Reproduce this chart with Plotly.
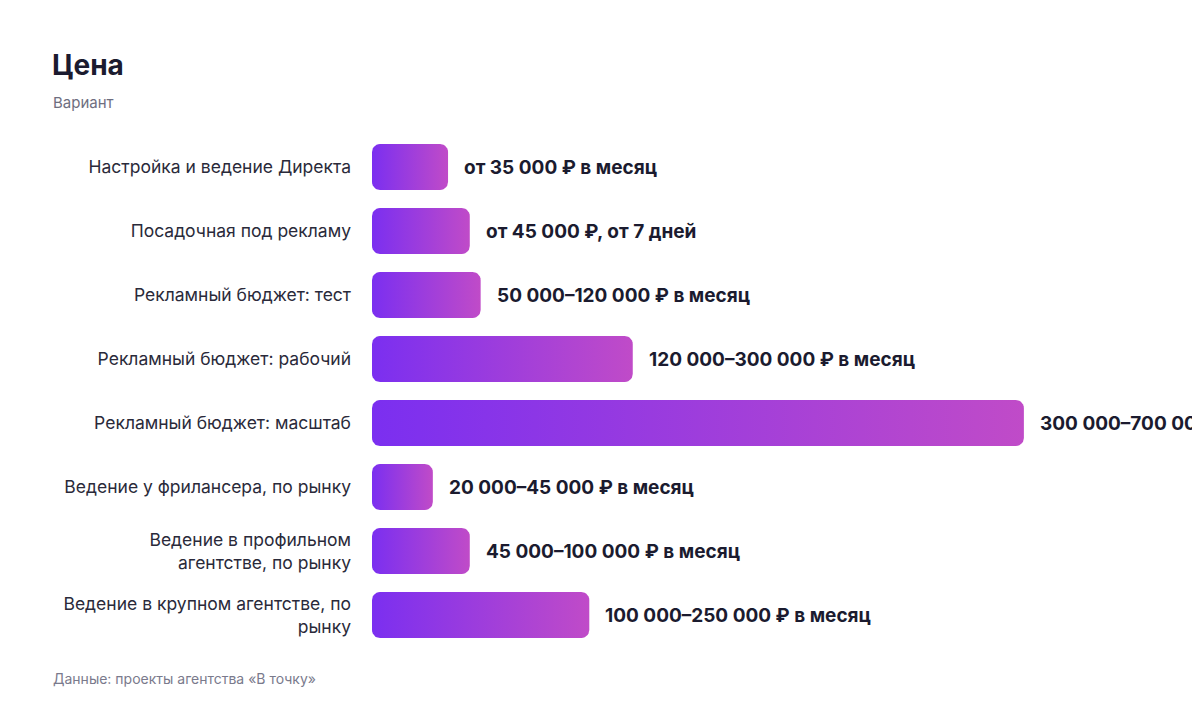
import numpy as np
import plotly.graph_objects as go

# Data
categories = [
    "Настройка и ведение Директа",
    "Посадочная под рекламу",
    "Рекламный бюджет: тест",
    "Рекламный бюджет: рабочий",
    "Рекламный бюджет: масштаб",
    "Ведение у фрилансера, по рынку",
    "Ведение в профильном<br>агентстве, по рынку",
    "Ведение в крупном агентстве, по<br>рынку",
]
values = [35000, 45000, 50000, 120000, 300000, 28000, 45000, 100000]
value_labels = [
    "от 35 000 ₽ в месяц",
    "от 45 000 ₽, от 7 дней",
    "50 000–120 000 ₽ в месяц",
    "120 000–300 000 ₽ в месяц",
    "300 000–700 000 ₽ в месяц",
    "20 000–45 000 ₽ в месяц",
    "45 000–100 000 ₽ в месяц",
    "100 000–250 000 ₽ в месяц",
]

# page body adds an 8px offset, so the figure is a bit smaller than the window
OFF = 8
W, H = 1200 - OFF, 712 - OFF
ML, MR, MT, MB = 372 - OFF, 24, 135 - OFF, 65
plot_w = W - ML - MR
plot_h = H - MT - MB
x_max = 370000
n_rows = len(categories)
row_px = plot_h / n_rows

half_h = 0.36          # half bar height in row units
radius_px = 8
rx = radius_px / plot_w * x_max
ry = radius_px / row_px

FONT = "Inter, Liberation Sans, Arial, sans-serif"


def rounded_bar(x1, yc, x0=0.0, steps=8):
    r_x = min(rx, (x1 - x0) / 2)
    top, bot = yc - half_h, yc + half_h
    corners = [
        (x0 + r_x, top + ry, 180, 270),
        (x1 - r_x, top + ry, 270, 360),
        (x1 - r_x, bot - ry, 0, 90),
        (x0 + r_x, bot - ry, 90, 180),
    ]
    xs, ys = [], []
    for cx, cy, a0, a1 in corners:
        t = np.radians(np.linspace(a0, a1, steps))
        xs.extend(cx + r_x * np.cos(t))
        ys.extend(cy + ry * np.sin(t))
    xs.append(xs[0])
    ys.append(ys[0])
    return xs, ys


fig = go.Figure()
for i, v in enumerate(values):
    xs, ys = rounded_bar(v, i)
    fig.add_trace(go.Scatter(
        x=xs, y=ys, mode="lines", fill="toself",
        line=dict(width=0),
        fillgradient=dict(type="horizontal",
                          colorscale=[[0, "#7B2FF0"], [1, "#C04BC8"]]),
        hoverinfo="skip", showlegend=False,
    ))
    fig.add_annotation(
        x=v, y=i, text=value_labels[i], showarrow=False,
        xanchor="left", yanchor="middle", xshift=14,
        font=dict(size=19, color="#1b1b2f", weight=700),
    )


# screen pixel -> paper coords
def px_x(p):
    return (p - OFF - ML) / plot_w


def px_y(p):
    return (H - MB - (p - OFF)) / plot_h


fig.add_annotation(x=px_x(50), y=px_y(65), xref="paper", yref="paper",
                   text="Цена", showarrow=False, xanchor="left", yanchor="middle",
                   font=dict(size=28, color="#1b1b2f", weight=700))
fig.add_annotation(x=px_x(51), y=px_y(102), xref="paper", yref="paper",
                   text="Вариант", showarrow=False, xanchor="left", yanchor="middle",
                   font=dict(size=15, color="#6e6e80"))
fig.add_annotation(x=px_x(51), y=px_y(678), xref="paper", yref="paper",
                   text="Данные: проекты агентства «В точку»", showarrow=False,
                   xanchor="left", yanchor="middle",
                   font=dict(size=14, color="#7a7a8c"))

fig.update_layout(
    width=W, height=H,
    margin=dict(l=ML, r=MR, t=MT, b=MB),
    paper_bgcolor="white", plot_bgcolor="white",
    font=dict(family=FONT, color="#2a2a3a"),
    xaxis=dict(range=[0, x_max], visible=False, fixedrange=True),
    yaxis=dict(
        range=[n_rows - 0.5, -0.5],
        tickvals=list(range(n_rows)), ticktext=categories,
        showgrid=False, zeroline=False, showline=False, ticks="",
        ticklabelstandoff=20,
        tickfont=dict(size=17.5, color="#2a2a3a"),
        fixedrange=True,
    ),
)

fig.write_html("out.html")
